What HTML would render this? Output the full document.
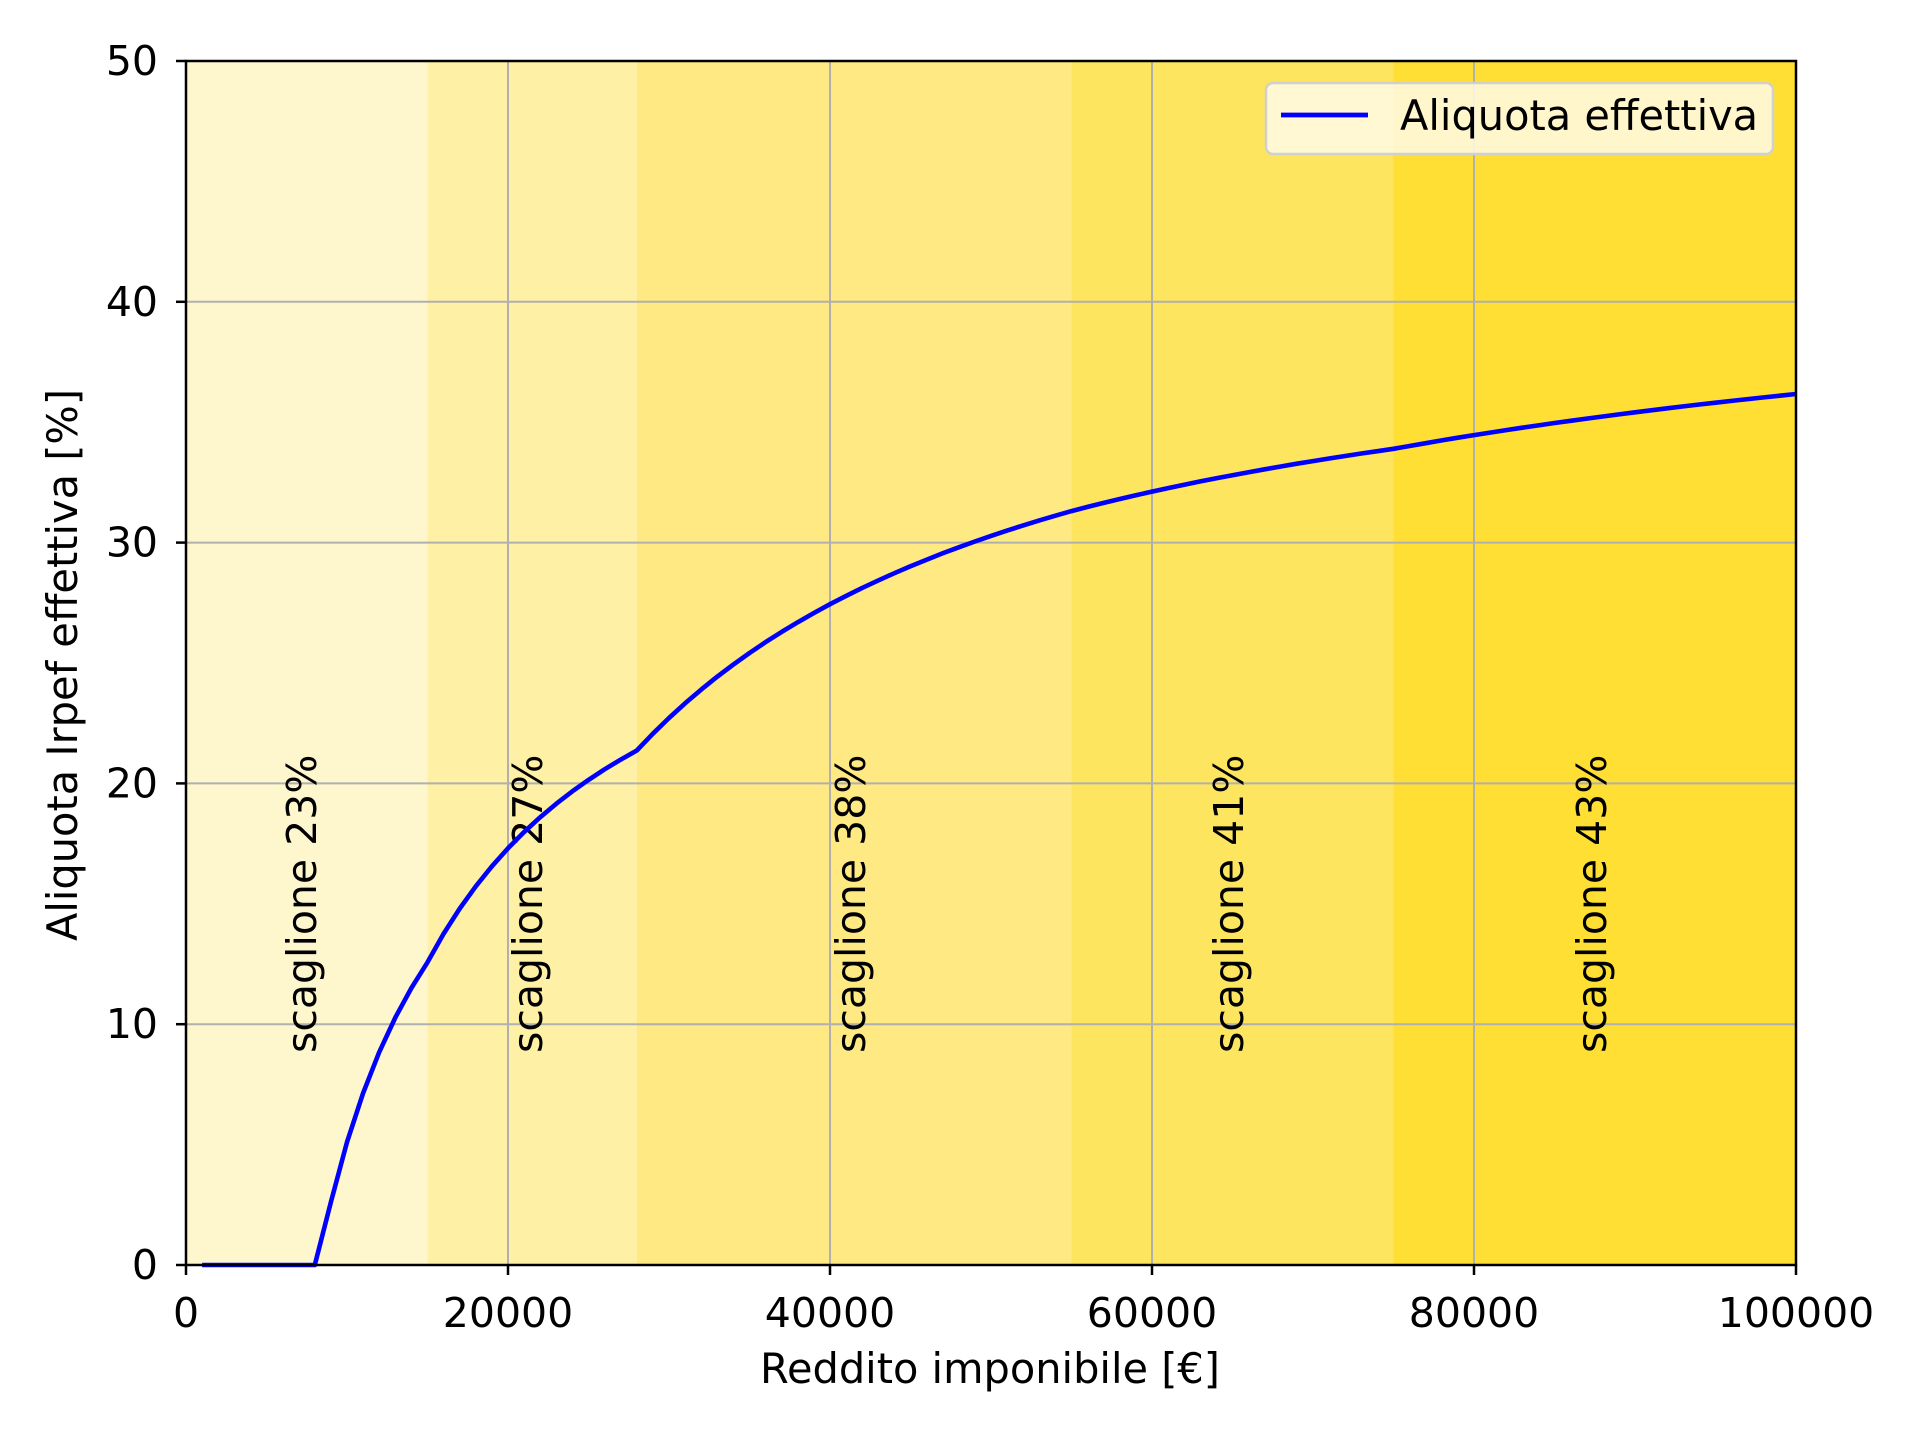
<!DOCTYPE html>
<html><head><meta charset="utf-8"><style>
html,body{margin:0;padding:0;background:#fff;}
svg{display:block;font-family:"DejaVu Sans","Liberation Sans",sans-serif;}
</style></head><body>
<svg id="s" width="1920" height="1440" viewBox="0 0 1920 1440" xmlns="http://www.w3.org/2000/svg">
<rect x="0" y="0" width="1920" height="1440" fill="#fff"/>
<g id="bands"></g>
<g id="grid" stroke="#b0b0b0" stroke-width="2"></g>
<g font-size="41" fill="#000">
<text x="302" y="1053" transform="rotate(-90 302 1053)" dy="14">scaglione 23%</text>
<text x="528" y="1053" transform="rotate(-90 528 1053)" dy="14">scaglione 27%</text>
<text x="851" y="1053" transform="rotate(-90 851 1053)" dy="14">scaglione 38%</text>
<text x="1229" y="1053" transform="rotate(-90 1229 1053)" dy="14">scaglione 41%</text>
<text x="1592" y="1053" transform="rotate(-90 1592 1053)" dy="14">scaglione 43%</text>
</g>
<polyline id="curve" fill="none" stroke="#0000ff" stroke-width="4.6" stroke-linejoin="round"/>
<rect x="186" y="61" width="1610" height="1204" fill="none" stroke="#000" stroke-width="2.5"/>
<g id="ticks" stroke="#000" stroke-width="2.5"></g>
<g id="labels" font-size="41" fill="#000"></g>
<rect x="1266" y="83" width="507" height="71" rx="7" fill="#fffbe6" fill-opacity="0.85" stroke="#d0d0d0" stroke-width="2.5"/>
<line x1="1281" y1="115" x2="1368" y2="115" stroke="#0000ff" stroke-width="4.8"/>
<text x="1400" y="130" font-size="41.5">Aliquota effettiva</text>
<text x="990" y="1383" font-size="41.5" text-anchor="middle">Reddito imponibile [€]</text>
<text x="0" y="0" font-size="41.5" text-anchor="middle" transform="translate(77 665) rotate(-90)">Aliquota Irpef effettiva [%]</text>
</svg>
<script>
var L=186,R=1796,T=61,B=1265;
function X(v){return L+(R-L)*v/100000;}
function Y(v){return B-(B-T)*v/50;}
var ns="http://www.w3.org/2000/svg";
function el(p,t,a,txt){var e=document.createElementNS(ns,t);for(var k in a)e.setAttribute(k,a[k]);if(txt!==undefined)e.textContent=txt;document.getElementById(p).appendChild(e);}
var bands=[[0,15000,"#fef6cd"],[15000,28000,"#fef0a5"],[28000,55000,"#fee983"],[55000,75000,"#fee560"],[75000,100000,"#ffdf34"]];
bands.forEach(function(b){el("bands","rect",{x:X(b[0]),y:T,width:X(b[1])-X(b[0]),height:B-T,fill:b[2]});});
for(var i=1;i<5;i++){var x=X(i*20000);el("grid","line",{x1:x,y1:T,x2:x,y2:B});}
for(var j=1;j<5;j++){var y=Y(j*10);el("grid","line",{x1:L,y1:y,x2:R,y2:y});}
for(var i=0;i<=5;i++){var x=X(i*20000);el("ticks","line",{x1:x,y1:B,x2:x,y2:B+10});el("labels","text",{x:x,y:1327,"text-anchor":"middle"},String(i*20000));}
for(var j=0;j<=5;j++){var y=Y(j*10);el("ticks","line",{x1:L,y1:y,x2:L-10,y2:y});el("labels","text",{x:158,y:y+14,"text-anchor":"end"},String(j*10));}
function tax(r){var s=[[15000,.23],[28000,.27],[55000,.38],[75000,.41],[1e12,.43]],prev=0,t=0;
for(var k=0;k<s.length;k++){if(r>prev){t+=(Math.min(r,s[k][0])-prev)*s[k][1];}prev=s[k][0];}
var d;if(r<=8000)d=1880;else if(r<=28000)d=978+902*(28000-r)/20000;else if(r<=55000)d=978*(55000-r)/27000;else d=0;
return Math.max(0,t-d);}
var pts=[];for(var r=1000;r<=100000;r+=1000){pts.push(X(r).toFixed(1)+","+Y(100*tax(r)/r).toFixed(1));}
document.getElementById("curve").setAttribute("points",pts.join(" "));
</script>
</body></html>
